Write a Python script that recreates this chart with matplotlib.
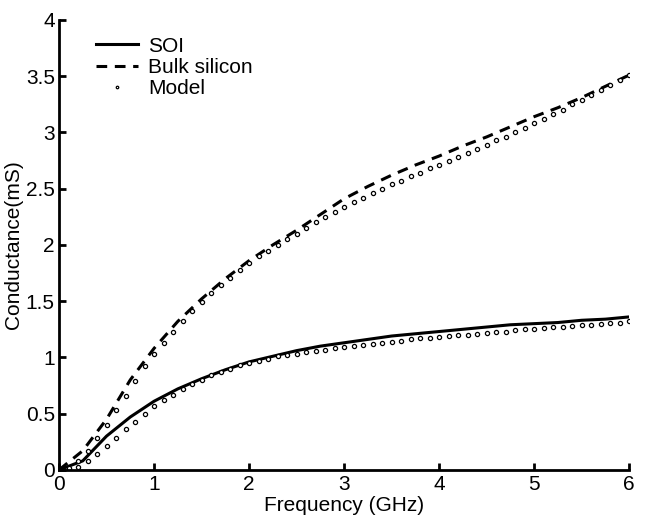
import matplotlib
matplotlib.use("Agg")
import matplotlib.pyplot as plt

# measured curves, 0.25 GHz steps
freq_meas = [0, 0.25, 0.5, 0.75, 1.0, 1.25, 1.5, 1.75, 2.0, 2.25, 2.5, 2.75, 3.0,
             3.25, 3.5, 3.75, 4.0, 4.25, 4.5, 4.75, 5.0, 5.25, 5.5, 5.75, 6.0]
soi = [0, 0.08, 0.30, 0.47, 0.61, 0.72, 0.81, 0.89, 0.96, 1.01, 1.06, 1.10, 1.13,
       1.16, 1.19, 1.21, 1.23, 1.25, 1.27, 1.29, 1.30, 1.31, 1.33, 1.34, 1.36]
bulk = [0, 0.17, 0.45, 0.80, 1.08, 1.32, 1.52, 1.70, 1.86, 2.00, 2.13, 2.27, 2.41,
        2.52, 2.62, 2.71, 2.79, 2.88, 2.96, 3.05, 3.14, 3.22, 3.31, 3.41, 3.51]

# model points, 0.1 GHz steps
freq_model = [i / 10 for i in range(61)]
model_bulk = [0, 0.02, 0.08, 0.17, 0.28, 0.40, 0.53, 0.66, 0.79, 0.92,
              1.03, 1.13, 1.23, 1.32, 1.41, 1.49, 1.57, 1.64, 1.71, 1.78,
              1.84, 1.90, 1.95, 2.00, 2.05, 2.10, 2.15, 2.20, 2.25, 2.29,
              2.34, 2.38, 2.42, 2.46, 2.50, 2.54, 2.57, 2.61, 2.64, 2.68,
              2.71, 2.75, 2.78, 2.82, 2.85, 2.89, 2.93, 2.96, 3.00, 3.04,
              3.08, 3.12, 3.16, 3.20, 3.25, 3.29, 3.33, 3.38, 3.42, 3.47,
              3.51]
model_soi = [0, 0.01, 0.03, 0.08, 0.14, 0.21, 0.28, 0.36, 0.43, 0.50,
             0.57, 0.62, 0.67, 0.72, 0.76, 0.80, 0.84, 0.87, 0.90, 0.93,
             0.95, 0.97, 0.99, 1.01, 1.02, 1.03, 1.05, 1.06, 1.07, 1.08,
             1.09, 1.10, 1.11, 1.12, 1.13, 1.14, 1.15, 1.16, 1.17, 1.17,
             1.18, 1.19, 1.20, 1.20, 1.21, 1.22, 1.23, 1.23, 1.24, 1.25,
             1.25, 1.26, 1.27, 1.27, 1.28, 1.29, 1.29, 1.30, 1.31, 1.31,
             1.32]

plt.rcParams['font.family'] = ['Liberation Sans', 'DejaVu Sans']

fig = plt.figure(figsize=(6.63, 5.25), dpi=100)
ax = fig.add_axes([0.089, 0.105, 0.86, 0.857])

ax.plot(freq_meas, soi, color='black', lw=2.2, label='SOI')
ax.plot(freq_meas, bulk, color='black', lw=2.2, ls=(0, (3.5, 2.5)), label='Bulk silicon')
mstyle = dict(ls='none', marker='o', ms=3, mfc='white', mec='black', mew=0.9)
ax.plot(freq_model, model_soi, label='Model', **mstyle)
ax.plot(freq_model, model_bulk, **mstyle)

ax.set_xlim(0, 6)
ax.set_ylim(0, 4)
ax.set_xticks(range(7))
ax.set_yticks([0, 0.5, 1, 1.5, 2, 2.5, 3, 3.5, 4])
ax.set_yticklabels(['0', '0.5', '1', '1.5', '2', '2.5', '3', '3.5', '4'])
ax.spines['top'].set_visible(False)
ax.spines['right'].set_visible(False)
for s in ('left', 'bottom'):
    ax.spines[s].set_linewidth(2)
ax.tick_params(direction='in', length=5, width=2, labelsize=15)
ax.tick_params(axis='x', pad=4)
ax.tick_params(axis='y', pad=3)

ax.set_xlabel('Frequency (GHz)', fontsize=15, labelpad=1)
ax.set_ylabel('Conductance(mS)', fontsize=15, labelpad=2)

leg = ax.legend(loc='upper left', frameon=False, fontsize=15, handlelength=2.0,
                handletextpad=0.5, labelspacing=0.1, borderaxespad=0.3,
                bbox_to_anchor=(0.04, 0.995), markerscale=0.6)

fig.savefig('out.png', dpi=100)
